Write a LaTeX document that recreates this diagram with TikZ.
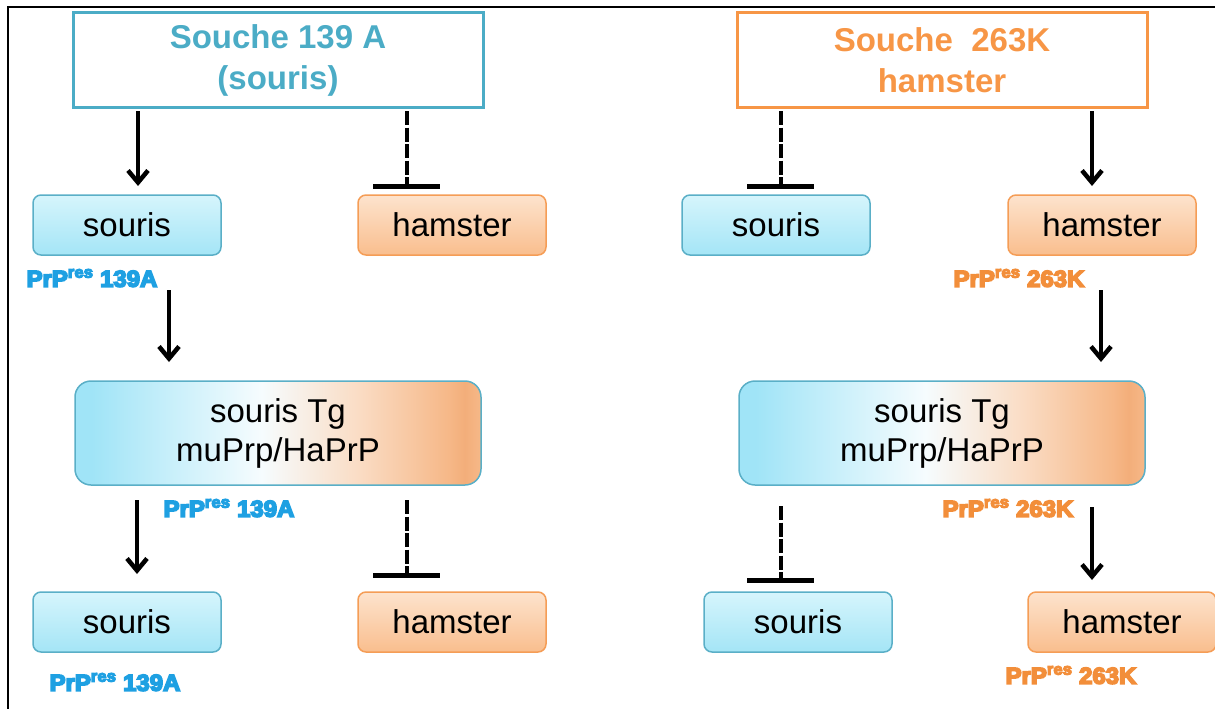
\documentclass[tikz,border=0pt]{standalone}
\usepackage{fontspec}
\setmainfont{Liberation Sans}
\newfontfamily\labfont[FakeBold=7,FakeStretch=1.04]{Liberation Sans Bold}
\usetikzlibrary{arrows.meta,calc}
\definecolor{cTeal}{RGB}{75,172,198}
\definecolor{cOrange}{RGB}{247,150,70}
\definecolor{bBord}{RGB}{90,175,199}
\definecolor{oBord}{RGB}{245,157,86}
\definecolor{bTop}{RGB}{214,245,252}
\definecolor{bBot}{RGB}{164,229,246}
\definecolor{oTop}{RGB}{253,227,205}
\definecolor{oBot}{RGB}{249,190,142}
\definecolor{gBlue}{RGB}{160,228,247}
\definecolor{gWhite}{RGB}{246,252,254}
\definecolor{gOrL}{RGB}{250,220,196}
\definecolor{gOr}{RGB}{246,184,136}
\definecolor{gOrD}{RGB}{243,174,122}
\definecolor{labBlue}{RGB}{30,160,226}
\definecolor{labOrange}{RGB}{242,142,58}
\pgfdeclarehorizontalshading{midgrad}{100bp}{color(0bp)=(gBlue); color(25bp)=(gBlue); color(27bp)=(gBlue); color(48bp)=(gWhite); color(60bp)=(gOrL); color(71bp)=(gOr); color(73bp)=(gOrD); color(75bp)=(gOr); color(100bp)=(gOr)}
\tikzset{
  smallbox/.style={rounded corners=8pt, line width=1.5pt, minimum width=188pt, minimum height=60pt, inner sep=0pt, outer sep=0pt, font=\fontsize{33}{38}\selectfont},
  blbox/.style={smallbox, draw=bBord, top color=bTop, bottom color=bBot},
  orbox/.style={smallbox, draw=oBord, top color=oTop, bottom color=oBot},
  titlebox/.style={line width=3pt, minimum width=410pt, minimum height=94pt, inner sep=0pt, outer sep=0pt, align=center, font=\bfseries\fontsize{33}{41}\selectfont},
  midbox/.style={rounded corners=16pt, draw=bBord, line width=1.5pt, shading=midgrad, minimum width=406pt, minimum height=104pt, inner sep=0pt, outer sep=0pt, align=center, font=\fontsize{33}{39}\selectfont},
  lab/.style={inner sep=0pt, font=\labfont\fontsize{23}{23}\selectfont},
  arr/.style={line width=4.5pt, -{Straight Barb[length=12pt,width=20pt]}},
  dashline/.style={line width=4.5pt, dash pattern=on 14pt off 2.5pt},
  tbar/.style={line width=5pt}
}
\begin{document}
\begin{tikzpicture}[x=1pt,y=-1pt]
\useasboundingbox (0,0) rectangle (1215,709);
\draw[line width=2.5pt] (8,709) -- (8,7) -- (1215,7);
% title boxes
\node[titlebox, draw=cTeal, text=cTeal] (topL) at (278,60) {\raisebox{-2pt}{Souche 139 A}\\\raisebox{-2pt}{(souris)}};
\node[titlebox, draw=cOrange, text=cOrange] (topR) at (942,60) {\raisebox{-2pt}{Souche\ \ 263K}\\\raisebox{-2pt}{hamster}};
% row 1
\node[blbox] (sL1) at (127,225) {souris};
\node[orbox] (hL1) at (452,225) {hamster};
\node[blbox] (sR1) at (776,225) {souris};
\node[orbox] (hR1) at (1102,225) {hamster};
% middle
\node[midbox] (midL) at (278,433) {\raisebox{-3pt}{souris Tg}\\\raisebox{-3pt}{muPrp/HaPrP}};
\node[midbox] (midR) at (942,433) {\raisebox{-3pt}{souris Tg}\\\raisebox{-3pt}{muPrp/HaPrP}};
% row 3
\node[blbox] (sL3) at (127,622) {souris};
\node[orbox] (hL3) at (452,622) {hamster};
\node[blbox] (sR3) at (798,622) {souris};
\node[orbox] (hR3) at (1122,622) {hamster};
% labels
\node[lab, text=labBlue] (pL1) at (92,278) {PrP\textsuperscript{res} 139A};
\node[lab, text=labOrange] (pR1) at (1019,278) {PrP\textsuperscript{res} 263K};
\node[lab, text=labBlue] (pLm) at (229,508) {PrP\textsuperscript{res} 139A};
\node[lab, text=labOrange] (pRm) at (1008,508) {PrP\textsuperscript{res} 263K};
\node[lab, text=labBlue] (pL3) at (115,682) {PrP\textsuperscript{res} 139A};
\node[lab, text=labOrange] (pR3) at (1071,675) {PrP\textsuperscript{res} 263K};
% connector x positions
\coordinate (xa1) at (138,0);
\coordinate (xd1) at (407,0);
\coordinate (xd2) at (781,0);
\coordinate (xa2) at (1092,0);
\coordinate (xa3) at (169,0);
\coordinate (xa4) at (1101,0);
\coordinate (xa5) at (137,0);
% top row connectors
\draw[arr] ($(xa1 |- topL.south)+(0,4)$) -- ($(xa1 |- sL1.north)+(0,-9)$);
\draw[dashline] ($(xd1 |- topL.south)+(0,4)$) -- ($(xd1 |- hL1.north)+(0,-9)$);
\draw[tbar] ($(xd1 |- hL1.north)+(-34,-9)$) -- ($(xd1 |- hL1.north)+(33,-9)$);
\draw[dashline] ($(xd2 |- topR.south)+(0,4)$) -- ($(xd2 |- sR1.north)+(0,-9)$);
\draw[tbar] ($(xd2 |- sR1.north)+(-34,-9)$) -- ($(xd2 |- sR1.north)+(33,-9)$);
\draw[arr] ($(xa2 |- topR.south)+(0,4)$) -- ($(xa2 |- hR1.north)+(0,-9)$);
% row1 to middle
\draw[arr] ($(xa3 |- sL1.south)+(0,35)$) -- ($(xa3 |- midL.north)+(0,-19)$);
\draw[arr] ($(xa4 |- hR1.south)+(0,35)$) -- ($(xa4 |- midR.north)+(0,-19)$);
% middle to row 3
\draw[arr] ($(xa5 |- midL.south)+(0,15)$) -- ($(xa5 |- sL3.north)+(0,-18)$);
\draw[dashline] ($(xd1 |- midL.south)+(0,15)$) -- ($(xd1 |- hL3.north)+(0,-17)$);
\draw[tbar] ($(xd1 |- hL3.north)+(-34,-17)$) -- ($(xd1 |- hL3.north)+(33,-17)$);
\draw[dashline] ($(xd2 |- midR.south)+(0,21)$) -- ($(xd2 |- sR3.north)+(0,-12)$);
\draw[tbar] ($(xd2 |- sR3.north)+(-34,-12)$) -- ($(xd2 |- sR3.north)+(33,-12)$);
\draw[arr] ($(xa2 |- midR.south)+(0,22)$) -- ($(xa2 |- hR3.north)+(0,-12)$);
\end{tikzpicture}
\end{document}
